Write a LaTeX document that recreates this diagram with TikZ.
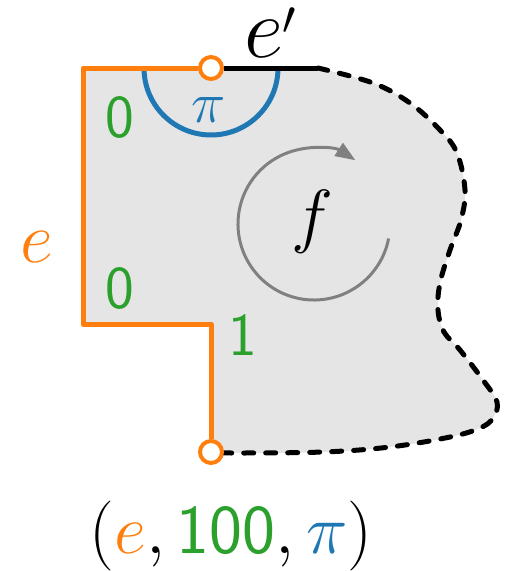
\RequirePackage{fix-cm}
\documentclass[tikz,border=0pt]{standalone}
\usepackage{fontspec}
\usetikzlibrary{arrows.meta}
\definecolor{tOrange}{HTML}{FF7F0E}
\definecolor{tGreen}{HTML}{2CA02C}
\definecolor{tBlue}{HTML}{1F77B4}
\definecolor{tFill}{HTML}{E5E5E5}
\definecolor{tGray}{HTML}{808080}
\newcommand\fsz[1]{\fontsize{#1}{#1}\selectfont}
\tikzset{
  edgeline/.style={line width=5pt, line join=round},
  dashedge/.style={line width=5pt, line cap=round, dash pattern=on 10pt off 12pt},
  vertex/.style={circle, draw=tOrange, fill=white, line width=4pt, minimum size=22pt, inner sep=0pt},
  lab/.style={anchor=base, inner sep=0pt},
  digit/.style={lab, text=tGreen, font=\fsz{61}\sffamily},
}
\begin{document}
\begin{tikzpicture}[x=1pt, y=-1pt]
\useasboundingbox (0,0) rectangle (518,571);
% key points
\coordinate (tl) at (83,68);
\coordinate (bl) at (83,324);
\coordinate (step) at (211,324);
\coordinate (je) at (318,68);
\coordinate (ac) at (314,224);
% face fill
\fill[tFill] (211,452) -- (211,324) -- (83,324) -- (83,68) -- (318,68)
  -- plot[smooth, tension=0.6] coordinates {(318,68) (373,83) (410,103) (440,130) (457,153) (465,190) (461,220) (450,250) (440,283) (438,310) (444,332) (460,350) (483,380) (497,402) (493,418) (480,428) (450,437) (390,447) (323,452) (233,453) (211,452)} -- cycle;
% dashed boundary
\draw[dashedge] plot[smooth, tension=0.6] coordinates {(318,68) (373,83) (410,103) (440,130) (457,153) (465,190) (461,220) (450,250) (440,283) (438,310) (444,332) (460,350) (483,380) (497,402) (493,418) (480,428) (450,437) (390,447) (323,452) (233,453) (211,452)};
% angle arc
\draw[tBlue, line width=5pt] (144,68) arc[start angle=180, end angle=0, radius=67];
% rotation arrow
\draw[tGray, line width=3pt, -{Triangle[length=20pt, width=15pt]}] (ac) ++(11:76) arc[start angle=11, end angle=303, radius=76];
% vertices
\node[vertex] (v1) at (211,68) {};
\node[vertex] (v2) at (211,452) {};
% edges
\draw[edgeline, black] (v1.east) -- (je);
\draw[edgeline, tOrange] (v1.west) -- (tl) -- (bl) -- (step) -- (v2.north);
% labels
\node[lab] (lep) at (270,57) {\fsz{86}$e$\kern-1pt\fsz{48}\raisebox{23pt}{$\prime$}};
\node[lab, text=tBlue] (lpi) at (209,122) {\fsz{58}$\pi$};
\node[digit] (d1) at (120,137) {0};
\node[digit] (d2) at (120,308) {0};
\node[digit] (d3) at (243,355) {1};
\node[lab, text=tOrange] (le) at (37,262) {\fsz{72}$e$};
\node[lab] (lf) at (312,239) {\fsz{71}$f$};
\node[lab] (tuple) at (231,553) {\fsz{70}$({\color{tOrange}e},{\color{tGreen}\textsf{100}},{\color{tBlue}\pi})$};
\end{tikzpicture}
\end{document}
